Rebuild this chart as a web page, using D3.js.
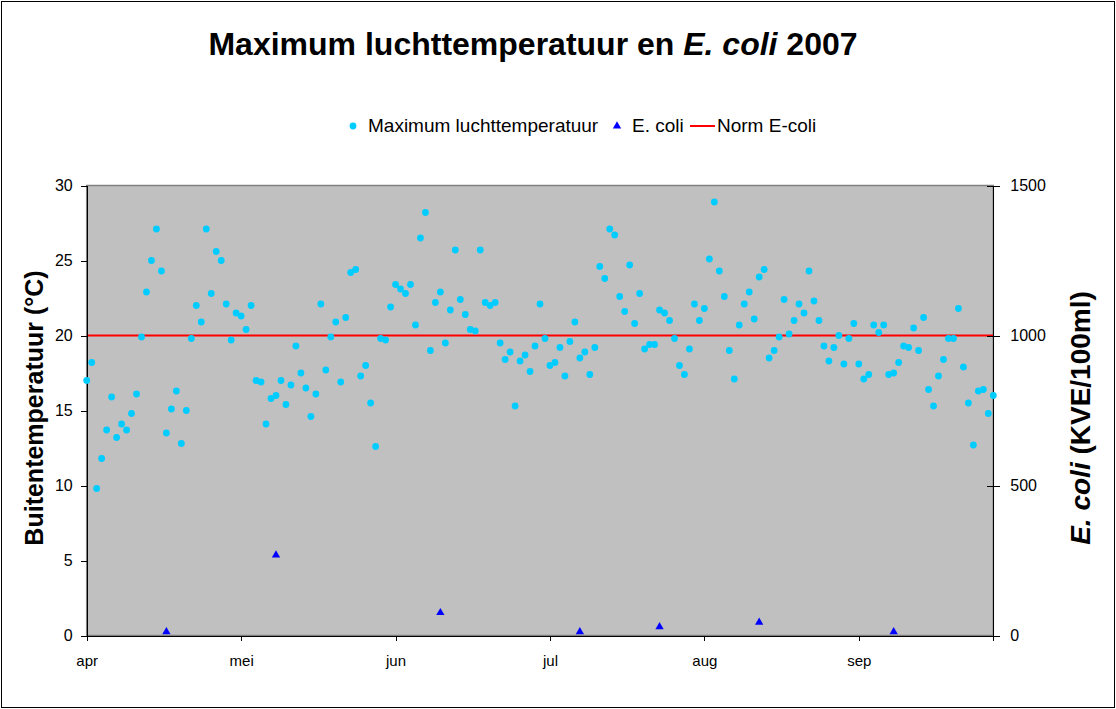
<!DOCTYPE html>
<html>
<head>
<meta charset="utf-8">
<script src="https://d3js.org/d3.v7.min.js"></script>
<style>
  body { margin: 0; background: #fff; }
  svg text { font-family: "Liberation Sans", Arial, sans-serif; fill: #000; }
  .axis path, .axis line { stroke: #000; shape-rendering: crispEdges; }
  .axis text { font-size: 16px; }
  .xas text { font-size: 15px; }
</style>
</head>
<body>
<script>
// daily maximum air temperature, 1 april t/m 30 september 2007
var startDatum = new Date(2007, 3, 1);
var temperatuur = [
  17.0,18.2,9.8,11.8,13.7,15.9,13.2,14.1,13.7,14.8,
  16.1,19.9,22.9,25.0,27.1,24.3,13.5,15.1,16.3,12.8,
  15.0,19.8,22.0,20.9,27.1,22.8,25.6,25.0,22.1,19.7,
  21.5,21.3,20.4,22.0,
  17.0,16.9,14.1,15.8,16.0,17.0,15.4,16.7,19.3,17.5,16.5,14.6,16.1,22.1,17.7,19.9,
  20.9,16.9,21.2,24.2,24.4,17.3,18.0,15.5,12.6,19.8,19.7,21.9,23.4,23.1,22.8,
  23.4,20.7,26.5,28.2,19.0,22.2,22.9,19.5,21.7,25.7,22.4,21.4,20.4,20.3,25.7,22.2,
  22.0,22.2,19.5,18.4,18.9,15.3,18.3,18.7,17.6,19.3,22.1,19.8,18.0,18.2,19.2,
  17.3,19.6,20.9,18.5,18.9,17.4,19.2,24.6,23.8,27.1,26.7,22.6,21.6,24.7,20.8,22.8,
  19.1,19.4,19.4,21.7,21.5,21.0,19.8,18.0,17.4,19.1,22.1,21.0,21.8,25.1,28.9,
  24.3,22.6,19.0,17.1,20.7,22.1,22.9,21.1,23.9,24.4,18.5,19.0,19.9,22.4,20.1,21.0,
  22.1,21.5,24.3,22.3,21.0,19.3,18.3,19.2,20.0,18.1,19.8,20.8,18.1,17.1,17.4,
  20.7,20.2,20.7,17.4,17.5,18.2,19.3,19.2,20.5,19.0,21.2,16.4,15.3,17.3,18.4,19.8,
  19.8,21.8,17.9,15.5,12.7,16.3,16.4,14.8,16.0
];
var ecoliDatum = ["2007-04-17", "2007-05-09", "2007-06-11", "2007-07-09", "2007-07-25", "2007-08-14", "2007-09-10"];
var ecoliWaarde = [12, 268, 76, 12, 29, 44, 12];
var normEcoli = 1000;
var maanden = ["jan","feb","mrt","apr","mei","jun","jul","aug","sep","okt","nov","dec"];
var tempTicks = [0, 5, 10, 15, 20, 25, 30];
var ecoliTicks = [0, 500, 1000, 1500];

var w = 1116, h = 709;
var pLeft = 86.7, pRight = 993.3, pTop = 185.5, pBottom = 635.5;

var svg = d3.select('body').append('svg')
    .attr('width', w).attr('height', h);

svg.append('rect')
    .attr('x', 1.5).attr('y', 1.5).attr('width', w - 3).attr('height', h - 3)
    .attr('fill', '#fff').attr('stroke', '#000').attr('stroke-width', 1);

var parse = d3.timeParse('%Y-%m-%d');
var tempData = temperatuur.map(function (t, i) {
    return { datum: d3.timeDay.offset(startDatum, i), waarde: t };
});
var ecoliData = ecoliDatum.map(function (d, i) {
    return { datum: parse(d), waarde: ecoliWaarde[i] };
});

var xscale = d3.scaleTime()
    .domain([startDatum, new Date(2007, 8, 30)])
    .range([pLeft, pRight]);
var yscale = d3.scaleLinear().domain([0, 30]).range([pBottom, pTop]);
var y2scale = d3.scaleLinear().domain([0, 1500]).range([pBottom, pTop]);

// plot area
svg.append('rect')
    .attr('x', pLeft).attr('y', pTop)
    .attr('width', pRight - pLeft).attr('height', pBottom - pTop)
    .attr('fill', '#c0c0c0').attr('stroke', '#808080').attr('stroke-width', 1.5);

// norm line
svg.append('line')
    .attr('x1', pLeft).attr('x2', pRight)
    .attr('y1', y2scale(normEcoli)).attr('y2', y2scale(normEcoli))
    .attr('stroke', '#ff0000').attr('stroke-width', 2);

// axes
var xTicks = d3.range(6).map(function (k) { return d3.timeDay.offset(startDatum, 31 * k); });
var xAxis = d3.axisBottom(xscale)
    .tickValues(xTicks)
    .tickSize(5)
    .tickPadding(15)
    .tickFormat(function (d) { return maanden[d.getMonth()]; });
svg.append('g').attr('class', 'axis xas')
    .attr('transform', 'translate(0,' + pBottom + ')')
    .call(xAxis);

svg.append('g').attr('class', 'axis')
    .attr('transform', 'translate(' + pLeft + ',0)')
    .call(d3.axisLeft(yscale).tickValues(tempTicks).tickSize(6).tickPadding(8));

var rAxis = svg.append('g').attr('class', 'axis')
    .attr('transform', 'translate(' + pRight + ',0)')
    .call(d3.axisRight(y2scale).tickValues(ecoliTicks).tickFormat(d3.format('d'))
        .tickSize(7).tickPadding(10));
rAxis.selectAll('.tick line').attr('x1', -6);

// temperature dots
svg.selectAll('circle.temp')
    .data(tempData)
    .enter().append('circle')
    .attr('class', 'temp')
    .attr('cx', function (d) { return xscale(d.datum); })
    .attr('cy', function (d) { return yscale(d.waarde); })
    .attr('r', 3.4)
    .attr('fill', '#00ccff');

// e. coli triangles
var tri = d3.symbol().type(d3.symbolTriangle).size(30);
svg.selectAll('path.ecoli')
    .data(ecoliData)
    .enter().append('path')
    .attr('class', 'ecoli')
    .attr('d', tri)
    .attr('transform', function (d) {
        return 'translate(' + xscale(d.datum) + ',' + y2scale(d.waarde) + ')';
    })
    .attr('fill', '#0000ff');

// title
var title = svg.append('text')
    .attr('x', 533).attr('y', 55)
    .attr('text-anchor', 'middle')
    .style('font-size', '32px').style('font-weight', 'bold');
title.append('tspan').text('Maximum luchttemperatuur en ');
title.append('tspan').style('font-style', 'italic').text('E. coli');
title.append('tspan').text(' 2007');

// legend
var leg = svg.append('g').attr('transform', 'translate(0,126)');
leg.append('circle').attr('cx', 353).attr('cy', 0).attr('r', 3.4).attr('fill', '#00ccff');
leg.append('text').attr('x', 368).attr('y', 6).style('font-size', '19px').text('Maximum luchttemperatuur');
leg.append('path').attr('d', tri).attr('transform', 'translate(617,0)').attr('fill', '#0000ff');
leg.append('text').attr('x', 632).attr('y', 6).style('font-size', '19px').text('E. coli');
leg.append('line').attr('x1', 690).attr('x2', 715).attr('y1', 0).attr('y2', 0)
    .attr('stroke', '#ff0000').attr('stroke-width', 2);
leg.append('text').attr('x', 717).attr('y', 6).style('font-size', '19px').text('Norm E-coli');

// axis titles
svg.append('text')
    .attr('transform', 'translate(43,408) rotate(-90)')
    .attr('text-anchor', 'middle')
    .style('font-size', '25px').style('font-weight', 'bold')
    .text('Buitentemperatuur (°C)');

var rtitle = svg.append('text')
    .attr('transform', 'translate(1090,418) rotate(-90)')
    .attr('text-anchor', 'middle')
    .style('font-size', '28px').style('font-weight', 'bold');
rtitle.append('tspan').style('font-style', 'italic').text('E. coli');
rtitle.append('tspan').text(' (KVE/100ml)');
</script>
</body>
</html>
